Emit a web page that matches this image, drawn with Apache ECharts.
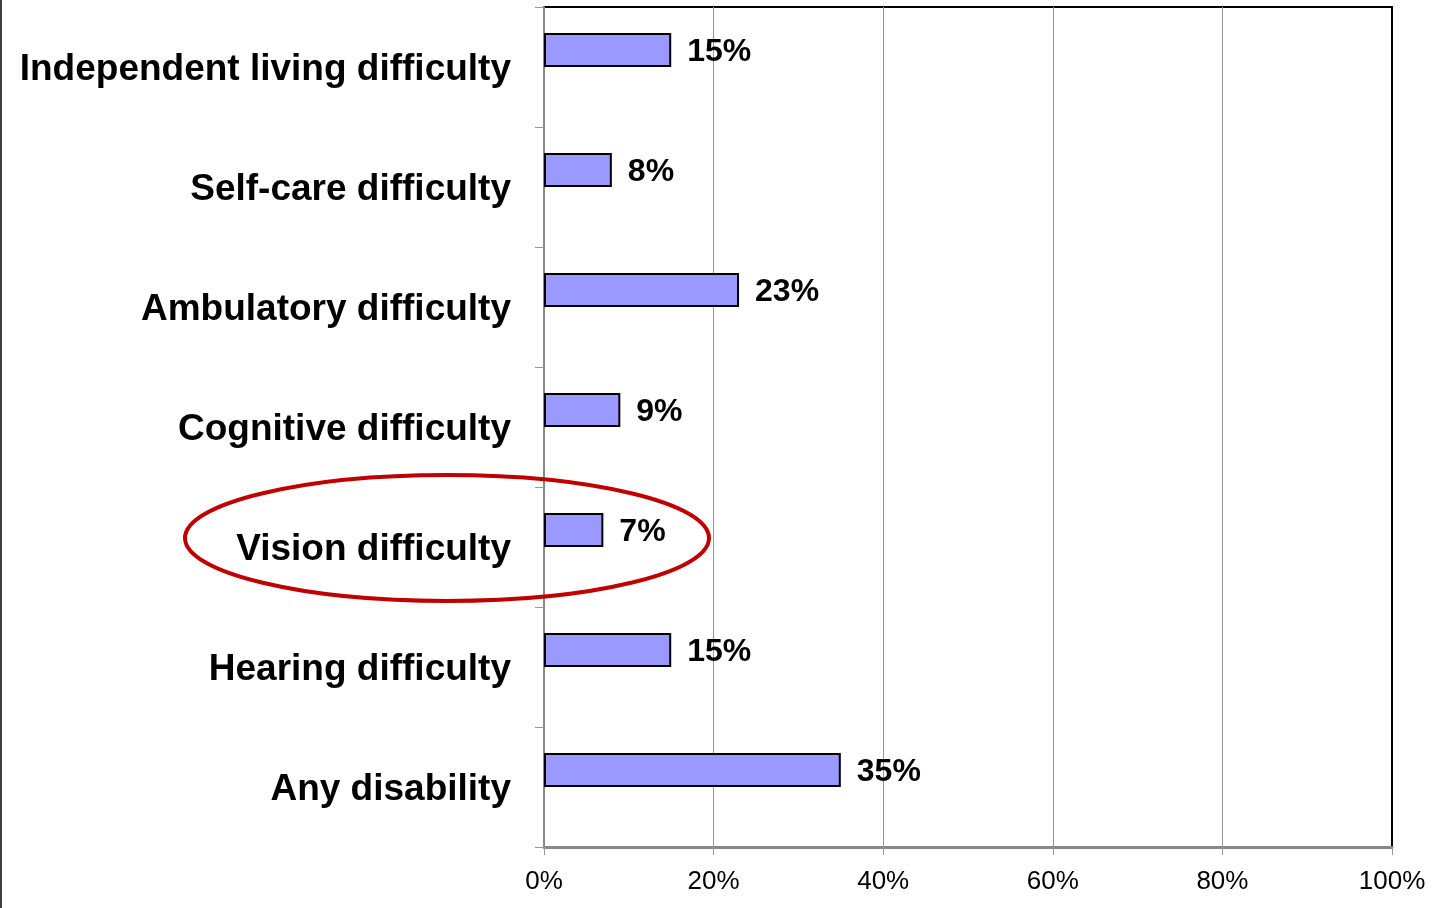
<!DOCTYPE html>
<html>
<head>
<meta charset="utf-8">
<script src="https://cdn.jsdelivr.net/npm/echarts@6/dist/echarts.min.js"></script>
<style>
html,body{margin:0;padding:0;background:#fff;}
#main{width:1435px;height:908px;}
</style>
</head>
<body>
<div id="main"></div>
<script>
var categories = ['Independent living difficulty','Self-care difficulty','Ambulatory difficulty','Cognitive difficulty','Vision difficulty','Hearing difficulty','Any disability'];
var values = [15, 8, 23, 9, 7, 15, 35];
var emptySeries = ['-', '-', '-', '-', '-', '-', '-'];
var xTicks = [0, 20, 40, 60, 80, 100];

var chart = echarts.init(document.getElementById('main'));
var font = '"Liberation Sans", Arial, Helvetica, sans-serif';
chart.setOption({
  animation: false,
  backgroundColor: '#fff',
  grid: {
    left: 544, right: 43, top: 7, bottom: 61,
    show: true, borderColor: '#000', borderWidth: 2, backgroundColor: 'transparent'
  },
  xAxis: {
    type: 'value', min: xTicks[0], max: xTicks[xTicks.length - 1], interval: 20,
    axisLine: { show: true, onZero: false, lineStyle: { color: '#888', width: 3 } },
    axisTick: { show: true, length: 8, lineStyle: { color: '#999', width: 1 } },
    axisLabel: { formatter: '{value}%', fontFamily: font, fontSize: 26, color: '#000', margin: 22 },
    splitLine: { show: true, showMinLine: false, showMaxLine: false, lineStyle: { color: '#999', width: 1 } }
  },
  yAxis: {
    type: 'category', data: categories, inverse: true,
    axisLine: { show: true, lineStyle: { color: '#888', width: 2 } },
    axisTick: { show: true, length: 9, lineStyle: { color: '#999', width: 1 } },
    axisLabel: {
      fontFamily: font, fontSize: 37, fontWeight: 'bold', color: '#000', margin: 33,
      formatter: function (v) { return '{pad|}\n{a|' + v + '}'; },
      rich: {
        pad: { fontSize: 1, lineHeight: 6 },
        a: { fontFamily: font, fontSize: 37, fontWeight: 'bold', color: '#000', lineHeight: 42 }
      }
    },
    splitLine: { show: false }
  },
  series: [
    {
      type: 'bar', data: values, barWidth: 34, barGap: '0%',
      itemStyle: { color: '#9999FF', borderColor: '#000', borderWidth: 2 },
      label: {
        show: true, position: 'right', distance: 16,
        formatter: '{pad|}\n{a|{c}%}',
        rich: {
          pad: { fontSize: 1, lineHeight: 4 },
          a: { fontFamily: font, fontSize: 32, fontWeight: 'bold', color: '#000', lineHeight: 36 }
        }
      }
    },
    {
      type: 'bar', data: emptySeries, barWidth: 34, barGap: '0%', silent: true,
      itemStyle: { color: 'transparent' }
    }
  ],
  graphic: [
    { type: 'rect', left: 0, top: 0, shape: { x: 0, y: 0, width: 2, height: 908 }, style: { fill: '#404040' } },
    { type: 'ellipse', shape: { cx: 447, cy: 538, rx: 262, ry: 63 },
      style: { fill: 'none', stroke: '#C00000', lineWidth: 4 }, z: 100 }
  ]
});
</script>
</body>
</html>
